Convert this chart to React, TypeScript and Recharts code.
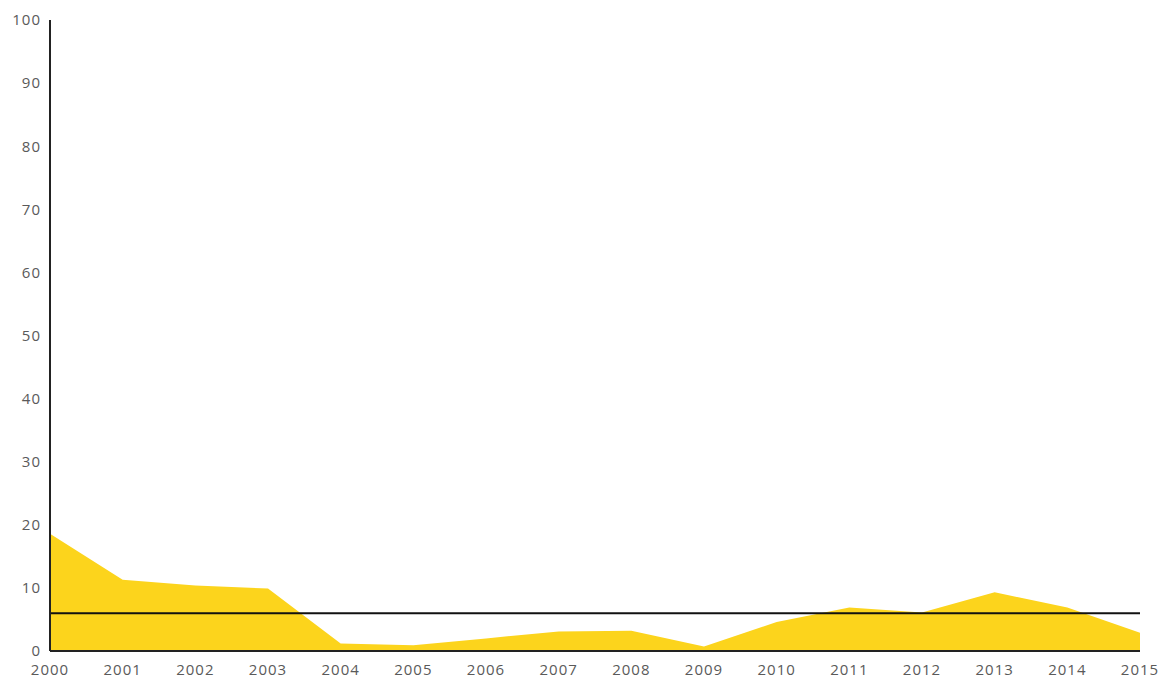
import { AreaChart, Area, XAxis, YAxis, ReferenceLine } from 'recharts';

const years = ['2000', '2001', '2002', '2003', '2004', '2005', '2006', '2007', '2008', '2009', '2010', '2011', '2012', '2013', '2014', '2015'];
const values = [18.6, 11.3, 10.4, 9.9, 1.2, 0.9, 2.0, 3.1, 3.2, 0.7, 4.6, 6.9, 6.1, 9.3, 6.9, 2.9];
const yTicks = [0, 10, 20, 30, 40, 50, 60, 70, 80, 90, 100];
const average = 6;

const data = years.map((year, i) => ({ year, value: values[i] }));

const tickStyle = { fontSize: 15, fill: '#5a5a5a', fontFamily: '"Open Sans", sans-serif', letterSpacing: 1 };

export default function App() {
    return (
        <div style={{ position: 'absolute', left: 0, top: 0, background: '#fff' }}>
            <AreaChart width={1169} height={679} data={data} margin={{ top: 20, right: 29, bottom: 0, left: 8 }}>
                <XAxis
                    dataKey="year"
                    stroke="#222"
                    strokeWidth={2}
                    tickLine={false}
                    tick={tickStyle}
                    tickMargin={7}
                    height={28}
                    interval={0}
                />
                <YAxis
                    domain={[0, 100]}
                    ticks={yTicks}
                    stroke="#222"
                    strokeWidth={2}
                    tickLine={false}
                    tick={tickStyle}
                    tickMargin={3}
                    width={42}
                    interval={0}
                />
                <Area
                    type="linear"
                    dataKey="value"
                    fill="#FCD41C"
                    fillOpacity={1}
                    stroke="none"
                    isAnimationActive={false}
                />
                <ReferenceLine y={average} stroke="#111" strokeWidth={2} />
            </AreaChart>
        </div>
    );
}
